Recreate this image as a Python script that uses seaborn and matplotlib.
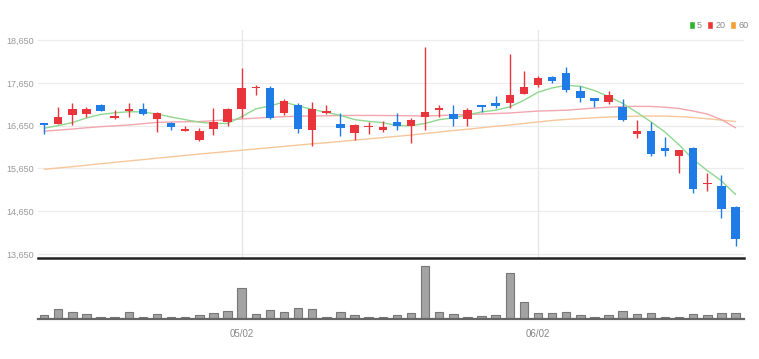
import numpy as np
import pandas as pd
import matplotlib
matplotlib.use("Agg")
import matplotlib.pyplot as plt
from matplotlib.patches import Patch
import seaborn as sns

# ---------------- data ----------------
dates = ["04/11", "04/12", "04/13", "04/14", "04/15", "04/18", "04/19", "04/20", "04/21", "04/22",
         "04/25", "04/26", "04/27", "04/28", "05/02", "05/03", "05/04", "05/06", "05/09", "05/10",
         "05/11", "05/12", "05/13", "05/16", "05/17", "05/18", "05/19", "05/20", "05/23", "05/24",
         "05/25", "05/26", "05/27", "05/30", "05/31", "06/02", "06/03", "06/07", "06/08", "06/09",
         "06/10", "06/13", "06/14", "06/15", "06/16", "06/17", "06/20", "06/21", "06/22", "06/23"]

opens = [16700, 16690, 16890, 16920, 17130, 16820, 16990, 17030, 16800, 16700,
         16525, 16315, 16560, 16730, 17040, 17525, 17520, 16940, 17130, 16550,
         16950, 16680, 16485, 16625, 16550, 16740, 16640, 16845, 17015, 16920,
         16800, 17130, 17185, 17185, 17390, 17600, 17780, 17870, 17465, 17290,
         17195, 17080, 16455, 16530, 16135, 15940, 16135, 15285, 15240, 14755]
closes = [16660, 16840, 17030, 17030, 16990, 16875, 17030, 16930, 16940, 16610,
          16565, 16525, 16740, 17030, 17520, 17560, 16820, 17230, 16570, 17030,
          16990, 16600, 16665, 16650, 16625, 16640, 16780, 16975, 17055, 16800,
          17015, 17090, 17110, 17365, 17560, 17755, 17700, 17480, 17290, 17230,
          17365, 16780, 16530, 15980, 16055, 16080, 15170, 15315, 14695, 13995]
highs = [16710, 17080, 17190, 17080, 17150, 17015, 17170, 17185, 16960, 16740,
         16640, 16590, 17060, 17060, 17990, 17600, 17585, 17265, 17170, 17210,
         17130, 16940, 16680, 16740, 16765, 16950, 16820, 18480, 17130, 17130,
         17055, 17140, 17340, 18320, 17935, 17810, 17800, 18030, 17575, 17295,
         17465, 17265, 16780, 16730, 16375, 16090, 16150, 15535, 15495, 14770]
lows = [16450, 16680, 16670, 16860, 16980, 16810, 16860, 16890, 16510, 16550,
        16515, 16300, 16440, 16640, 16820, 17365, 16800, 16900, 16485, 16175,
        16915, 16410, 16315, 16455, 16510, 16550, 16240, 16550, 16845, 16640,
        16640, 16975, 17055, 17055, 17380, 17560, 17640, 17440, 17195, 17090,
        17155, 16765, 16355, 15940, 15945, 15535, 15070, 15130, 14485, 13840]

ma5 = [16590, 16650, 16720, 16830, 16910, 16950, 16975, 16970, 16920, 16850,
       16790, 16730, 16700, 16700, 16860, 17040, 17110, 17200, 17110, 17030,
       16960, 16890, 16790, 16750, 16720, 16650, 16650, 16700, 16790, 16830,
       16900, 16970, 17010, 17090, 17240, 17430, 17530, 17590, 17570, 17470,
       17330, 17170, 16960, 16740, 16500, 16200, 15860, 15600, 15360, 15040]
ma20 = [16520, 16545, 16570, 16600, 16625, 16645, 16665, 16695, 16725, 16735,
        16740, 16745, 16765, 16785, 16805, 16825, 16845, 16860, 16870, 16875,
        16880, 16885, 16888, 16888, 16886, 16884, 16880, 16875, 16885, 16898,
        16910, 16921, 16933, 16945, 16968, 16990, 17000, 17010, 17035, 17060,
        17080, 17096, 17100, 17098, 17080, 17050, 16990, 16920, 16790, 16600]
ma60 = [15630, 15660, 15690, 15725, 15760, 15790, 15825, 15855, 15890, 15920,
        15955, 15985, 16015, 16045, 16075, 16105, 16135, 16165, 16195, 16225,
        16250, 16280, 16310, 16340, 16370, 16400, 16430, 16465, 16500, 16535,
        16565, 16600, 16635, 16665, 16700, 16735, 16770, 16795, 16815, 16835,
        16850, 16862, 16870, 16875, 16872, 16860, 16840, 16810, 16780, 16745]

volumes = [43, 103, 77, 57, 27, 27, 70, 27, 57, 27,
           27, 47, 60, 87, 310, 57, 93, 77, 110, 103,
           27, 77, 40, 27, 20, 43, 60, 533, 70, 57,
           27, 37, 47, 467, 170, 60, 60, 77, 47, 27,
           40, 87, 57, 60, 27, 20, 57, 47, 60, 60]

price_ticks = [13650, 14650, 15650, 16650, 17650, 18650]
date_ticks = ["05/02", "06/02"]

# ---------------- style ----------------
sns.set_theme(style="white")
plt.rcParams["font.family"] = ["Liberation Sans", "DejaVu Sans"]

UP = "#e8343a"
DOWN = "#1f7be6"
C5, C20, C60 = "#8fd88f", "#f2a6ae", "#f7c79a"

df = pd.DataFrame({"i": np.arange(len(dates)), "date": dates, "open": opens, "close": closes,
                   "high": highs, "low": lows, "ma5": ma5, "ma20": ma20, "ma60": ma60,
                   "volume": volumes})

fig = plt.figure(figsize=(7.59, 3.59), dpi=100)
ax = fig.add_axes([38 / 759, 101.5 / 359, 706 / 759, 227.5 / 359])
axv = fig.add_axes([38 / 759, 39.7 / 359, 706 / 759, 57.3 / 359], sharex=ax)

tick_pos = [dates.index(d) for d in date_ticks]

# grid
for p in price_ticks:
    ax.axhline(p, color="#ececec", lw=0.9, zorder=0)
for t in tick_pos:
    ax.axvline(t, color="#e6e6e6", lw=0.9, zorder=0)

# moving averages
sns.lineplot(data=df, x="i", y="ma60", ax=ax, color=C60, lw=1.0, zorder=2)
sns.lineplot(data=df, x="i", y="ma20", ax=ax, color=C20, lw=1.0, zorder=2)
sns.lineplot(data=df, x="i", y="ma5", ax=ax, color=C5, lw=1.0, zorder=2)

# candles
up = df["close"] >= df["open"]
colors = np.where(up, UP, DOWN)
ax.vlines(df["i"], df["low"], df["high"], colors=colors, lw=1.0, zorder=3)
body_lo = np.minimum(df["open"], df["close"])
body_h = np.maximum(np.abs(df["close"] - df["open"]), 25)
ax.bar(df["i"], body_h, bottom=body_lo, width=0.6, color=colors, linewidth=0, zorder=4)

ax.set_xlim(-0.43, 49.6)
ax.set_ylim(13569, 18884)
ax.set_yticks(price_ticks)
ax.set_yticklabels([f"{p:,}" for p in price_ticks])
ax.tick_params(axis="y", length=0, pad=3, labelsize=6.5, labelcolor="#999999")
ax.tick_params(axis="x", length=0, labelbottom=False)
ax.set_xlabel("")
ax.set_ylabel("")
for s in ["top", "right", "left"]:
    ax.spines[s].set_visible(False)
ax.spines["bottom"].set_color("#222222")
ax.spines["bottom"].set_linewidth(1.8)

# volume
sns.barplot(data=df, x="i", y="volume", ax=axv, native_scale=True, width=0.6,
            color="#a3a3a3", edgecolor="#777777", linewidth=0.8, saturation=1)
axv.set_ylim(0, 573)
axv.set_yticks([])
axv.set_xticks(tick_pos)
axv.set_xticklabels(date_ticks)
axv.tick_params(axis="x", length=3, width=0.8, color="#666666", pad=4,
                labelsize=7, labelcolor="#888888")
axv.set_xlabel("")
axv.set_ylabel("")
for s in ["top", "right", "left"]:
    axv.spines[s].set_visible(False)
axv.spines["bottom"].set_color("#666666")
axv.spines["bottom"].set_linewidth(1.6)
axv.set_xlim(-0.43, 49.6)

# legend
handles = [Patch(facecolor="#2db52d", label="5"),
           Patch(facecolor="#ee3535", label="20"),
           Patch(facecolor="#f5a033", label="60")]
fig.legend(handles=handles, loc="upper right", bbox_to_anchor=(752 / 759, 1 - 17 / 359),
           ncol=3, frameon=False, fontsize=6.5, handlelength=0.7, handleheight=1.1,
           handletextpad=0.25, columnspacing=0.5, labelcolor="#888888", borderaxespad=0)

fig.savefig("out.png", dpi=100)
